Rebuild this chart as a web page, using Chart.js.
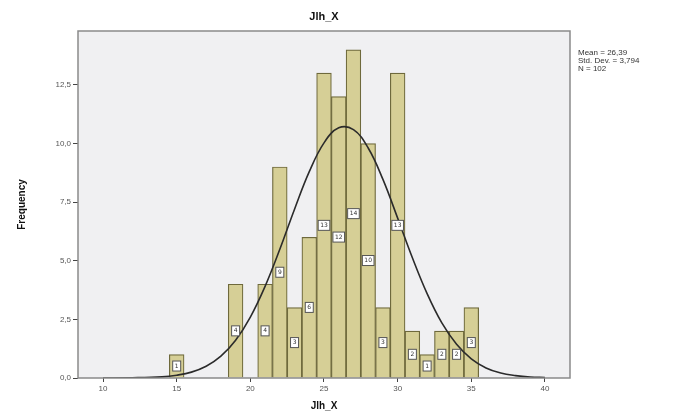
<!DOCTYPE html>
<html>
<head>
<meta charset="utf-8">
<script src="https://cdn.jsdelivr.net/npm/chart.js@4"></script>
<style>
  html, body { margin: 0; padding: 0; background: #fff; }
  #wrap { width: 679px; height: 417px; }
</style>
</head>
<body>
<div id="wrap"><canvas id="histogram" width="679" height="417"></canvas></div>
<script>
// bins of Jlh_X (width 1, centred on integers) and their counts
const binCenters = [15, 16, 17, 18, 19, 20, 21, 22, 23, 24, 25, 26, 27, 28, 29, 30, 31, 32, 33, 34, 35];
const binCounts  = [1, 0, 0, 0, 4, 0, 4, 9, 3, 6, 13, 12, 14, 10, 3, 13, 2, 1, 2, 2, 3];

// normal curve
const curveX = [10, 12, 14, 15, 16, 17, 18, 19, 20, 21, 22, 23, 24, 25, 26, 27, 28, 29, 30, 31, 32, 33, 34, 35, 36, 37, 38, 39, 40];
const curveY = [0.0, 0.01, 0.05, 0.12, 0.25, 0.5, 0.93, 1.61, 2.6, 3.91, 5.49, 7.2, 8.8, 10.03, 10.67, 10.59, 9.81, 8.47, 6.82, 5.13, 3.6, 2.35, 1.44, 0.82, 0.43, 0.21, 0.1, 0.04, 0.02];

const xTicks = [10, 15, 20, 25, 30, 35, 40];
const yTicks = [0, 2.5, 5, 7.5, 10, 12.5];
const statsLines = ['Mean = 26,39', 'Std. Dev. = 3,794', 'N = 102'];

const fmtComma = (v) => v.toFixed(1).replace('.', ',');

const barPoints = binCenters
  .map((x, i) => ({ x: x, y: binCounts[i] }))
  .filter((p) => p.y > 0);
const curvePoints = curveX.map((x, i) => ({ x: x, y: curveY[i] }));

const plotBg = {
  id: 'plotBg',
  beforeDraw(chart) {
    const { ctx, chartArea: a } = chart;
    ctx.save();
    ctx.fillStyle = '#f0f0f2';
    ctx.fillRect(a.left, a.top, a.right - a.left, a.bottom - a.top);
    ctx.restore();
  },
  afterDraw(chart) {
    const { ctx, chartArea: a } = chart;
    ctx.save();
    ctx.strokeStyle = '#8a8a8a';
    ctx.lineWidth = 1.5;
    ctx.strokeRect(a.left, a.top, a.right - a.left, a.bottom - a.top);

    // count labels in little boxes at mid height of each bar
    const meta = chart.getDatasetMeta(0);
    ctx.font = '6px "DejaVu Sans"';
    ctx.textAlign = 'center';
    ctx.textBaseline = 'middle';
    meta.data.forEach((bar, i) => {
      const midY = (bar.y + bar.base) / 2;
      const txt = String(barPoints[i].y);
      const w = Math.max(8, ctx.measureText(txt).width + 4);
      ctx.fillStyle = '#ffffff';
      ctx.fillRect(bar.x - w / 2, midY - 5, w, 10);
      ctx.strokeStyle = '#555';
      ctx.lineWidth = 1;
      ctx.strokeRect(bar.x - w / 2, midY - 5, w, 10);
      ctx.fillStyle = '#333';
      ctx.fillText(txt, bar.x, midY);
    });

    // titles
    ctx.fillStyle = '#111';
    ctx.font = 'bold 11px "Liberation Sans"';
    ctx.fillText('Jlh_X', (a.left + a.right) / 2, 17);
    ctx.font = 'bold 10px "Liberation Sans"';
    ctx.fillText('Jlh_X', (a.left + a.right) / 2, 406);
    ctx.translate(22, (a.top + a.bottom) / 2);
    ctx.rotate(-Math.PI / 2);
    ctx.fillText('Frequency', 0, 0);
    ctx.restore();

    ctx.save();
    ctx.fillStyle = '#333';
    ctx.font = '8px "Liberation Sans"';
    ctx.textAlign = 'left';
    ctx.textBaseline = 'middle';
    statsLines.forEach((line, i) => {
      ctx.fillText(line, 578, 53 + i * 8);
    });
    ctx.restore();
  },
};

new Chart(document.getElementById('histogram'), {
  type: 'bar',
  data: {
    datasets: [
      {
        type: 'bar',
        data: barPoints,
        backgroundColor: 'rgb(214, 207, 150)',
        borderColor: 'rgb(110, 105, 60)',
        borderWidth: 1.2,
        barPercentage: 1,
        categoryPercentage: 1,
        order: 2,
      },
      {
        type: 'line',
        data: curvePoints,
        borderColor: '#2b2b2b',
        borderWidth: 1.6,
        pointRadius: 0,
        tension: 0.4,
        fill: false,
        order: 1,
      },
    ],
  },
  plugins: [plotBg],
  options: {
    responsive: false,
    animation: false,
    layout: { padding: { left: 0, top: 31, right: 109, bottom: 0 } },
    plugins: { legend: { display: false }, tooltip: { enabled: false } },
    scales: {
      x: {
        type: 'linear',
        offset: false,
        min: 8.3,
        max: 41.7,
        afterBuildTicks: (scale) => {
          scale.ticks = xTicks.map((v) => ({ value: v }));
        },
        afterFit: (scale) => {
          scale.height = 39;
        },
        grid: { display: true, drawOnChartArea: false, offset: false, drawTicks: true, tickLength: 4, tickColor: '#444', color: '#444' },
        border: { display: false },
        ticks: {
          color: '#555',
          font: { family: 'Liberation Sans', size: 8 },
          padding: 2,
          maxRotation: 0,
          callback: (v) => String(v),
        },
      },
      y: {
        min: 0,
        max: 14.8,
        afterBuildTicks: (scale) => {
          scale.ticks = yTicks.map((v) => ({ value: v }));
        },
        afterFit: (scale) => {
          scale.width = 78;
        },
        grid: { display: true, drawOnChartArea: false, drawTicks: true, tickLength: 5, tickColor: '#444', color: '#444' },
        border: { display: false },
        ticks: {
          color: '#555',
          font: { family: 'Liberation Sans', size: 8 },
          padding: 2,
          callback: (v) => fmtComma(v),
        },
      },
    },
  },
});
</script>
</body>
</html>
